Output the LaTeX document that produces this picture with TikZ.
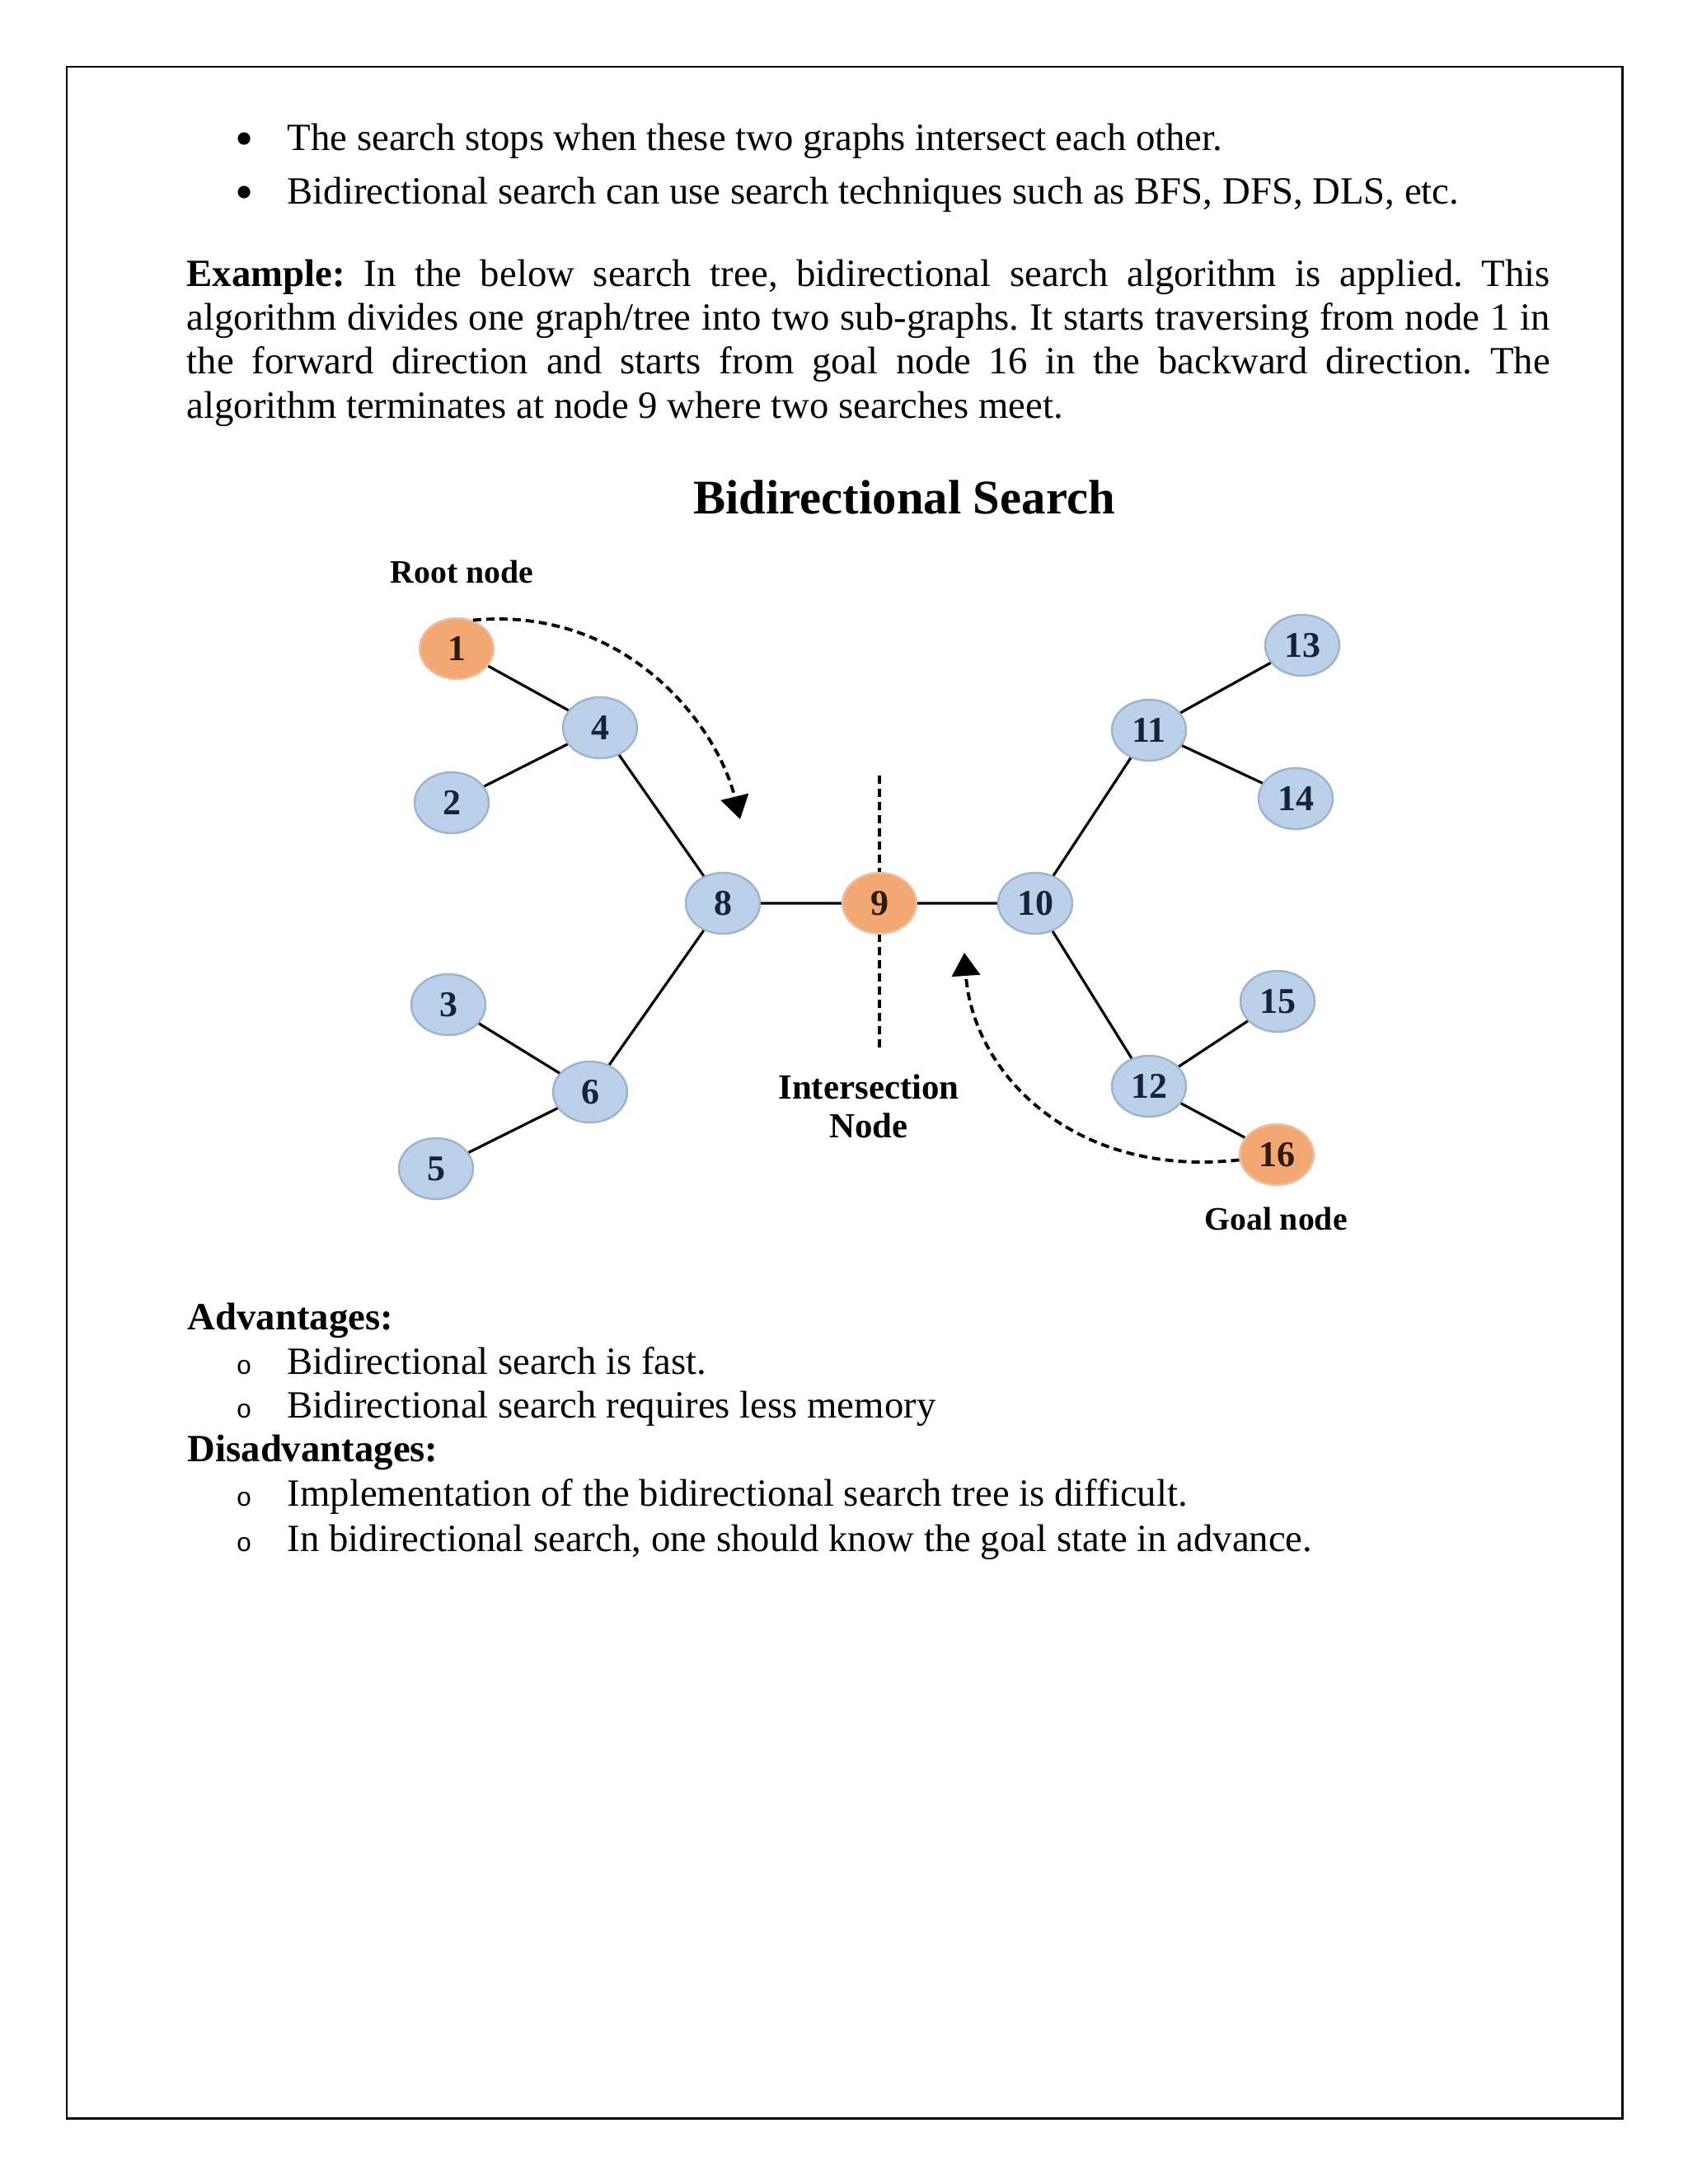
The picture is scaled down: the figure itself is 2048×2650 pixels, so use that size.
\documentclass[tikz,border=0pt]{standalone}
\usepackage{fontspec}
\setmainfont{Liberation Serif}
\newfontfamily\monofont{Liberation Mono}
\usepackage{xcolor}
\usepackage{tikz}
\usetikzlibrary{shapes.geometric,arrows.meta}

\definecolor{bleufond}{HTML}{BBD0E9}
\definecolor{bleubord}{HTML}{9DB3CF}
\definecolor{bleutexte}{HTML}{15243A}
\definecolor{orangefond}{HTML}{F3A873}
\definecolor{orangebord}{HTML}{E8C3A6}
\definecolor{orangetexte}{HTML}{2E1A0E}

\begin{document}
\frenchspacing
\begin{tikzpicture}[x=0.1mm,y=-0.1mm,
	txt/.style={anchor=base west,inner sep=0pt,font=\fontsize{13.3}{15}\selectfont},
	puce/.style={anchor=base,inner sep=0pt,font=\fontsize{13.3}{15}\selectfont},
	gpuce/.style={anchor=center,inner sep=0pt,font=\fontsize{18}{18}\selectfont},
	bleunode/.style={ellipse,minimum width=9mm,minimum height=7.4mm,inner sep=0pt,fill=bleufond,draw=bleubord,line width=0.7pt,text=bleutexte,font=\fontsize{12.5}{12.5}\selectfont\bfseries},
	orangenode/.style={bleunode,fill=orangefond,draw=orangebord,text=orangetexte},
	lab/.style={inner sep=0pt,font=\fontsize{11.3}{13}\selectfont\bfseries},
	arete/.style={line width=0.9pt},
	fleche/.style={line width=1.1pt,dash pattern=on 1mm off 0.6mm,-{Triangle[width=3.4mm,length=2.8mm]}}]
	\useasboundingbox (0,0) rectangle (2048,2650);
	\draw[line width=0.85pt] (81,81) rectangle (1968,2570); % le cadre de la page

	% le texte au-dessus
	\node[gpuce] (p1) at (297,175) {\textbullet};
	\node[txt] (t1) at (348,182) {The search stops when these two graphs intersect each other.};
	\node[gpuce] (p2) at (297,240) {\textbullet};
	\node[txt] (t2) at (348,247) {Bidirectional search can use search techniques such as BFS, DFS, DLS, etc.};
	\node[txt] (ex1) at (226,347) {\makebox[165.4mm][s]{\textbf{Example:} In the below search tree, bidirectional search algorithm is applied. This}};
	\node[txt] (ex2) at (226,400) {\makebox[165.4mm][s]{algorithm divides one graph/tree into two sub-graphs. It starts traversing from node 1 in}};
	\node[txt] (ex3) at (226,453) {\makebox[165.4mm][s]{the forward direction and starts from goal node 16 in the backward direction. The}};
	\node[txt] (ex4) at (226,507) {algorithm terminates at node 9 where two searches meet.};

	% le graphe
	\node[lab,anchor=base,font=\fontsize{16.7}{18}\selectfont\bfseries] (titre) at (1097,623) {Bidirectional Search};
	\node[lab,anchor=base west] (racine) at (473,707) {Root node};
	\node[lab,anchor=base,font=\fontsize{12.2}{13}\selectfont\bfseries] (inter1) at (1054,1333) {Intersection};
	\node[lab,anchor=base,font=\fontsize{12.2}{13}\selectfont\bfseries] (inter2) at (1054,1380) {Node};
	\node[lab,anchor=base] (but) at (1548,1492) {Goal node};

	\coordinate (haut) at (1067,941);
	\coordinate (bas) at (1067,1272);
	\draw[line width=1.1pt,dash pattern=on 1mm off 0.6mm] (haut) -- (bas); % la coupure

	\node[orangenode] (n1) at (554,787) {1};
	\node[bleunode] (n4) at (728,883) {4};
	\node[bleunode] (n2) at (548,974) {2};
	\node[bleunode] (n8) at (877,1096) {8};
	\node[orangenode] (n9) at (1067,1096) {9};
	\node[bleunode] (n10) at (1256,1096) {10};
	\node[bleunode] (n3) at (544,1219) {3};
	\node[bleunode] (n6) at (716,1325) {6};
	\node[bleunode] (n5) at (529,1418) {5};
	\node[bleunode] (n11) at (1394,886) {11};
	\node[bleunode] (n13) at (1580,783) {13};
	\node[bleunode] (n14) at (1572,969) {14};
	\node[bleunode] (n12) at (1394,1318) {12};
	\node[bleunode] (n15) at (1550,1215) {15};
	\node[orangenode] (n16) at (1549,1401) {16};

	\draw[arete] (n1) -- (n4) (n2) -- (n4) (n4) -- (n8) (n8) -- (n9) (n9) -- (n10);
	\draw[arete] (n3) -- (n6) (n5) -- (n6) (n6) -- (n8);
	\draw[arete] (n10) -- (n11) (n11) -- (n13) (n11) -- (n14);
	\draw[arete] (n10) -- (n12) (n12) -- (n15) (n12) -- (n16);

	\coordinate (pointe1) at (898,994);
	\coordinate (pointe2) at (1170,1156);
	\draw[fleche] (n1.60) .. controls (760,735) and (870,880) .. (pointe1);
	\draw[fleche] (n16.188) .. controls (1300,1430) and (1180,1300) .. (pointe2);

	% le texte en dessous
	\node[txt,font=\fontsize{13.3}{15}\selectfont\bfseries] (av) at (227,1613) {Advantages:};
	\node[puce] (o1) at (296,1667) {\monofont\fontsize{9}{9}\selectfont o};
	\node[txt] (a1) at (348,1667) {Bidirectional search is fast.};
	\node[puce] (o2) at (296,1720) {\monofont\fontsize{9}{9}\selectfont o};
	\node[txt] (a2) at (348,1720) {Bidirectional search requires less memory};
	\node[txt,font=\fontsize{13.3}{15}\selectfont\bfseries] (dis) at (227,1773) {Disadvantages:};
	\node[puce] (o3) at (296,1827) {\monofont\fontsize{9}{9}\selectfont o};
	\node[txt] (d1) at (348,1827) {Implementation of the bidirectional search tree is difficult.};
	\node[puce] (o4) at (296,1882) {\monofont\fontsize{9}{9}\selectfont o};
	\node[txt] (d2) at (348,1882) {In bidirectional search, one should know the goal state in advance.};
\end{tikzpicture}
\end{document}
